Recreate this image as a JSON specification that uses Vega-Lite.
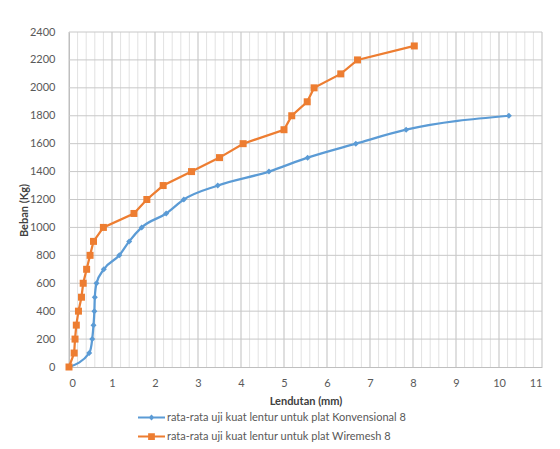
{
  "$schema": "https://vega.github.io/schema/vega-lite/v6.json",
  "width": 473,
  "height": 335,
  "autosize": {"type": "none"},
  "padding": {"left": 69, "top": 32, "right": 18, "bottom": 82},
  "config": {
    "view": {"stroke": null},
    "font": "Lato",
    "axis": {"labelFont": "Lato", "titleFont": "Lato", "labelFontSize": 11, "labelColor": "#595959", "titleFontSize": 11, "titleFontWeight": "bold", "titleColor": "#404040", "tickSize": 0, "domainColor": "#bfbfbf", "grid": false}
  },
  "datasets": {
    "gx": [{"v":0},{"v":0.2},{"v":0.4},{"v":0.6},{"v":0.8},{"v":1},{"v":1.2},{"v":1.4},{"v":1.6},{"v":1.8},{"v":2},{"v":2.2},{"v":2.4},{"v":2.6},{"v":2.8},{"v":3},{"v":3.2},{"v":3.4},{"v":3.6},{"v":3.8},{"v":4},{"v":4.2},{"v":4.4},{"v":4.6},{"v":4.8},{"v":5},{"v":5.2},{"v":5.4},{"v":5.6},{"v":5.8},{"v":6},{"v":6.2},{"v":6.4},{"v":6.6},{"v":6.8},{"v":7},{"v":7.2},{"v":7.4},{"v":7.6},{"v":7.8},{"v":8},{"v":8.2},{"v":8.4},{"v":8.6},{"v":8.8},{"v":9},{"v":9.2},{"v":9.4},{"v":9.6},{"v":9.8},{"v":10},{"v":10.2},{"v":10.4},{"v":10.6},{"v":10.8},{"v":11}],
    "gy": [{"w":200},{"w":400},{"w":600},{"w":800},{"w":1000},{"w":1200},{"w":1400},{"w":1600},{"w":1800},{"w":2000},{"w":2200},{"w":2400}],
    "main": [
      {"s": "rata-rata uji kuat lentur untuk plat Konvensional 8", "x": 0, "y": 0},
      {"s": "rata-rata uji kuat lentur untuk plat Konvensional 8", "x": 0.47, "y": 100},
      {"s": "rata-rata uji kuat lentur untuk plat Konvensional 8", "x": 0.54, "y": 200},
      {"s": "rata-rata uji kuat lentur untuk plat Konvensional 8", "x": 0.57, "y": 300},
      {"s": "rata-rata uji kuat lentur untuk plat Konvensional 8", "x": 0.59, "y": 400},
      {"s": "rata-rata uji kuat lentur untuk plat Konvensional 8", "x": 0.6, "y": 500},
      {"s": "rata-rata uji kuat lentur untuk plat Konvensional 8", "x": 0.64, "y": 600},
      {"s": "rata-rata uji kuat lentur untuk plat Konvensional 8", "x": 0.81, "y": 700},
      {"s": "rata-rata uji kuat lentur untuk plat Konvensional 8", "x": 1.17, "y": 800},
      {"s": "rata-rata uji kuat lentur untuk plat Konvensional 8", "x": 1.4, "y": 900},
      {"s": "rata-rata uji kuat lentur untuk plat Konvensional 8", "x": 1.69, "y": 1000},
      {"s": "rata-rata uji kuat lentur untuk plat Konvensional 8", "x": 2.26, "y": 1100},
      {"s": "rata-rata uji kuat lentur untuk plat Konvensional 8", "x": 2.67, "y": 1200},
      {"s": "rata-rata uji kuat lentur untuk plat Konvensional 8", "x": 3.46, "y": 1300},
      {"s": "rata-rata uji kuat lentur untuk plat Konvensional 8", "x": 4.65, "y": 1400},
      {"s": "rata-rata uji kuat lentur untuk plat Konvensional 8", "x": 5.55, "y": 1500},
      {"s": "rata-rata uji kuat lentur untuk plat Konvensional 8", "x": 6.67, "y": 1600},
      {"s": "rata-rata uji kuat lentur untuk plat Konvensional 8", "x": 7.84, "y": 1700},
      {"s": "rata-rata uji kuat lentur untuk plat Konvensional 8", "x": 10.23, "y": 1800},
      {"s": "rata-rata uji kuat lentur untuk plat Wiremesh 8", "x": 0, "y": 0},
      {"s": "rata-rata uji kuat lentur untuk plat Wiremesh 8", "x": 0.12, "y": 100},
      {"s": "rata-rata uji kuat lentur untuk plat Wiremesh 8", "x": 0.14, "y": 200},
      {"s": "rata-rata uji kuat lentur untuk plat Wiremesh 8", "x": 0.17, "y": 300},
      {"s": "rata-rata uji kuat lentur untuk plat Wiremesh 8", "x": 0.22, "y": 400},
      {"s": "rata-rata uji kuat lentur untuk plat Wiremesh 8", "x": 0.29, "y": 500},
      {"s": "rata-rata uji kuat lentur untuk plat Wiremesh 8", "x": 0.33, "y": 600},
      {"s": "rata-rata uji kuat lentur untuk plat Wiremesh 8", "x": 0.41, "y": 700},
      {"s": "rata-rata uji kuat lentur untuk plat Wiremesh 8", "x": 0.49, "y": 800},
      {"s": "rata-rata uji kuat lentur untuk plat Wiremesh 8", "x": 0.57, "y": 900},
      {"s": "rata-rata uji kuat lentur untuk plat Wiremesh 8", "x": 0.8, "y": 1000},
      {"s": "rata-rata uji kuat lentur untuk plat Wiremesh 8", "x": 1.51, "y": 1100},
      {"s": "rata-rata uji kuat lentur untuk plat Wiremesh 8", "x": 1.81, "y": 1200},
      {"s": "rata-rata uji kuat lentur untuk plat Wiremesh 8", "x": 2.19, "y": 1300},
      {"s": "rata-rata uji kuat lentur untuk plat Wiremesh 8", "x": 2.85, "y": 1400},
      {"s": "rata-rata uji kuat lentur untuk plat Wiremesh 8", "x": 3.5, "y": 1500},
      {"s": "rata-rata uji kuat lentur untuk plat Wiremesh 8", "x": 4.05, "y": 1600},
      {"s": "rata-rata uji kuat lentur untuk plat Wiremesh 8", "x": 5.0, "y": 1700},
      {"s": "rata-rata uji kuat lentur untuk plat Wiremesh 8", "x": 5.18, "y": 1800},
      {"s": "rata-rata uji kuat lentur untuk plat Wiremesh 8", "x": 5.54, "y": 1900},
      {"s": "rata-rata uji kuat lentur untuk plat Wiremesh 8", "x": 5.7, "y": 2000},
      {"s": "rata-rata uji kuat lentur untuk plat Wiremesh 8", "x": 6.32, "y": 2100},
      {"s": "rata-rata uji kuat lentur untuk plat Wiremesh 8", "x": 6.71, "y": 2200},
      {"s": "rata-rata uji kuat lentur untuk plat Wiremesh 8", "x": 8.03, "y": 2300}
    ]
  },
  "layer": [
    {
      "data": {"name": "gx"},
      "mark": {"type": "rule", "strokeWidth": 1},
      "encoding": {
        "x": {
          "field": "v", "type": "quantitative",
          "scale": {"domain": [0, 11], "nice": false, "zero": true},
          "axis": {"title": "Lendutan (mm)", "values": [0,1,2,3,4,5,6,7,8,9,10,11], "format": "d", "labelOverlap": false, "labelPadding": 10, "titlePadding": 7, "grid": false}
        },
        "color": {"condition": {"test": "abs(datum.v - round(datum.v)) < 0.001", "value": "#bfbfbf"}, "value": "#e2e2e2"}
      }
    },
    {
      "data": {"name": "gy"},
      "mark": {"type": "rule", "strokeWidth": 1, "color": "#c8c8c8"},
      "encoding": {
        "y": {
          "field": "w", "type": "quantitative",
          "scale": {"domain": [0, 2400], "nice": false},
          "axis": {"title": "Beban (Kg)", "format": "d", "values": [0,200,400,600,800,1000,1200,1400,1600,1800,2000,2200,2400], "labelPadding": 14, "grid": false, "titleX": -45, "titleY": 178, "titleAngle": 270, "titleAlign": "center", "titleBaseline": "middle"}
        }
      }
    },
    {
      "data": {"name": "main"},
      "encoding": {
        "x": {
          "field": "x", "type": "quantitative",
          "scale": {"domain": [0, 11], "nice": false, "zero": true},
          "axis": {"title": "Lendutan (mm)", "values": [0,1,2,3,4,5,6,7,8,9,10,11], "format": "d", "labelOverlap": false, "labelPadding": 10, "titlePadding": 7, "grid": false}
        },
        "y": {
          "field": "y", "type": "quantitative",
          "scale": {"domain": [0, 2400], "nice": false},
          "axis": {"title": "Beban (Kg)", "format": "d", "values": [0,200,400,600,800,1000,1200,1400,1600,1800,2000,2200,2400], "labelPadding": 14, "grid": false, "titleX": -45, "titleY": 178, "titleAngle": 270, "titleAlign": "center", "titleBaseline": "middle"}
        },
        "color": {
          "field": "s", "type": "nominal",
          "scale": {"domain": ["rata-rata uji kuat lentur untuk plat Konvensional 8", "rata-rata uji kuat lentur untuk plat Wiremesh 8"], "range": ["#5B9BD5", "#ED7D31"]},
          "legend": {
            "title": null,
            "orient": "none",
            "legendX": 69,
            "legendY": 372,
            "direction": "vertical",
            "padding": 0,
            "symbolSize": 729,
            "labelFont": "Lato",
            "labelFontSize": 11,
            "labelColor": "#595959",
            "labelOffset": 2,
            "rowPadding": -7,
            "labelLimit": 400,
            "encode": {
              "symbols": {
                "update": {
                  "shape": {"signal": "indexof(datum.value, 'Konvensional') >= 0 ? 'M-1,-0.08L1,-0.08L1,0.08L-1,0.08Z M0,-0.22L0.22,0L0,0.22L-0.22,0Z' : 'M-1,-0.08L1,-0.08L1,0.08L-1,0.08Z M-0.25,-0.25L0.25,-0.25L0.25,0.25L-0.25,0.25Z'"},
                  "fill": {"signal": "indexof(datum.value, 'Konvensional') >= 0 ? '#5B9BD5' : '#ED7D31'"},
                  "fillOpacity": {"value": 1},
                  "strokeWidth": {"value": 0}
                }
              }
            }
          }
        }
      },
      "layer": [
        {
          "transform": [{"filter": "indexof(datum.s, 'Konvensional') >= 0"}],
          "mark": {"type": "line", "interpolate": "monotone", "strokeWidth": 2.25}
        },
        {
          "transform": [{"filter": "indexof(datum.s, 'Konvensional') >= 0"}],
          "mark": {"type": "point", "filled": true, "shape": "diamond", "size": 36, "opacity": 1}
        },
        {
          "transform": [{"filter": "indexof(datum.s, 'Wiremesh') >= 0"}],
          "mark": {"type": "line", "strokeWidth": 2.25}
        },
        {
          "transform": [{"filter": "indexof(datum.s, 'Wiremesh') >= 0"}],
          "mark": {"type": "point", "filled": true, "shape": "square", "size": 49, "opacity": 1}
        }
      ]
    }
  ]
}
